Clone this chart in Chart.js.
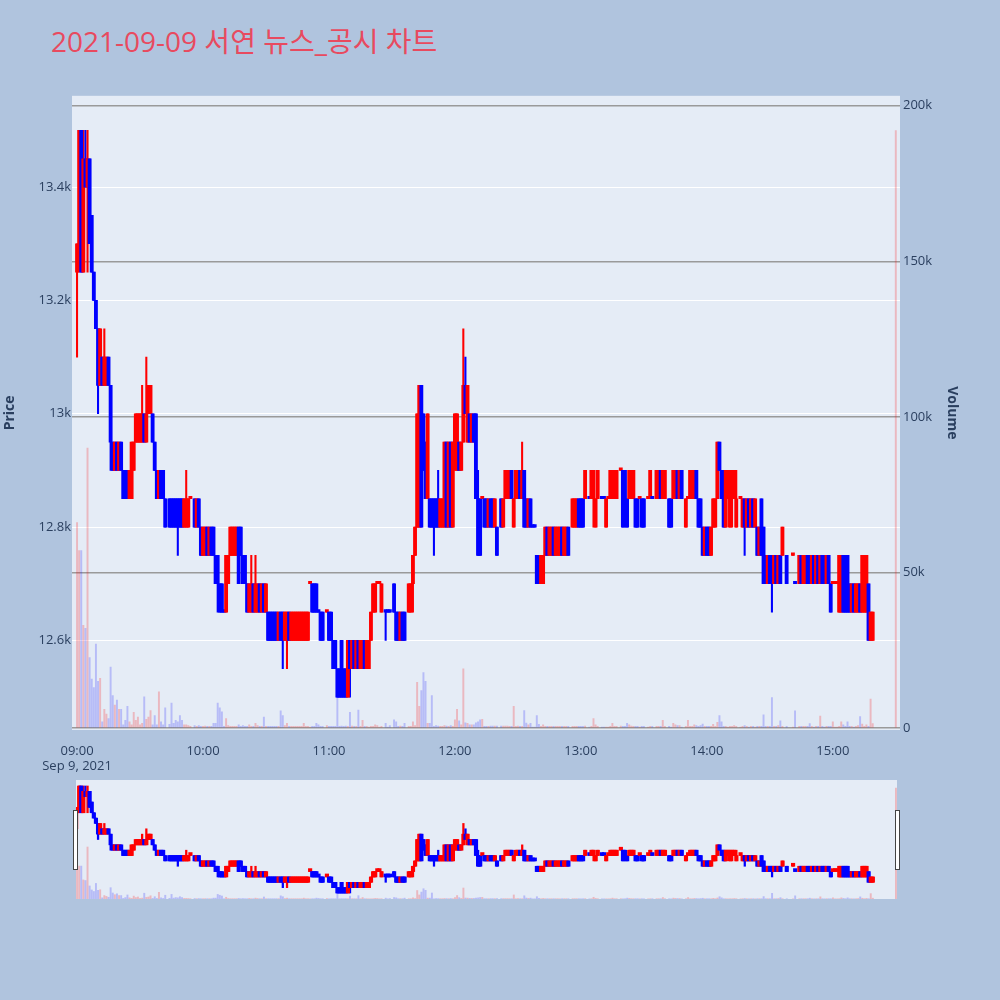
<!DOCTYPE html>
<html lang="ko">
<head>
<meta charset="utf-8">
<title>2021-09-09 서연 뉴스_공시 차트</title>
<script src="https://cdn.jsdelivr.net/npm/chart.js@4.4.1/dist/chart.umd.min.js"></script>
<style>
    html, body { margin: 0; padding: 0; background: #b0c4de; }
    body { width: 1000px; height: 1000px; position: relative; overflow: hidden; }
    #chartTitle {
        position: absolute; left: 51px; top: 27px; line-height: 1;
        font-family: "Open Sans", "Noto Sans CJK KR", sans-serif; font-size: 28px;
        color: #e84a5f; white-space: nowrap;
    }
    #mainBox { position: absolute; left: 0; top: 85px; width: 962px; height: 695px; }
    #sliderBox { position: absolute; left: 0; top: 780px; width: 1000px; height: 120px; }
    .grabber { position: absolute; top: 810px; width: 3px; height: 58px; background: #fff; border: 1px solid #444; }
</style>
</head>
<body>
<div id="chartTitle">2021-09-09 서연 뉴스_공시 차트</div>
<div id="mainBox"><canvas id="mainChart"></canvas></div>
<div id="sliderBox"><canvas id="sliderChart"></canvas></div>
<div class="grabber" style="left:73px"></div>
<div class="grabber" style="left:895px"></div>

<script>
// minutes after 09:00 (1-minute candles)
const minutes = [
    0, 1, 2, 3, 4, 5, 6, 7, 8, 9,
    10, 11, 12, 13, 14, 15, 16, 17, 18, 19,
    20, 21, 22, 23, 24, 25, 26, 27, 28, 29,
    30, 31, 32, 33, 34, 35, 36, 37, 38, 39,
    40, 41, 42, 44, 45, 46, 47, 48, 49, 50,
    51, 52, 53, 54, 56, 57, 58, 59, 60, 61,
    62, 63, 64, 65, 66, 67, 68, 69, 70, 71,
    72, 73, 74, 75, 76, 77, 78, 79, 80, 81,
    82, 83, 84, 85, 86, 87, 88, 89, 90, 91,
    92, 93, 94, 95, 96, 97, 98, 99, 100, 101,
    102, 103, 104, 105, 106, 107, 108, 109, 110, 111,
    112, 113, 114, 115, 116, 117, 119, 120, 121, 122,
    123, 124, 125, 126, 127, 128, 129, 130, 131, 132,
    133, 134, 135, 136, 137, 138, 139, 140, 141, 142,
    143, 144, 145, 147, 148, 149, 151, 152, 153, 154,
    155, 156, 158, 159, 160, 161, 162, 163, 164, 165,
    166, 167, 168, 169, 170, 171, 172, 173, 174, 175,
    176, 177, 178, 179, 180, 181, 182, 183, 184, 185,
    186, 187, 188, 189, 190, 191, 192, 193, 194, 195,
    196, 197, 198, 199, 200, 202, 203, 204, 205, 206,
    207, 208, 209, 210, 211, 212, 213, 214, 215, 216,
    217, 218, 219, 220, 221, 222, 223, 224, 225, 226,
    227, 228, 229, 230, 231, 232, 233, 234, 236, 237,
    238, 239, 240, 241, 242, 244, 245, 246, 247, 248,
    250, 251, 252, 253, 254, 255, 256, 257, 259, 260,
    261, 262, 263, 264, 265, 266, 267, 268, 269, 270,
    272, 273, 274, 276, 277, 278, 279, 280, 282, 283,
    284, 285, 286, 287, 288, 290, 291, 292, 293, 294,
    295, 296, 297, 298, 299, 300, 301, 302, 303, 304,
    305, 306, 307, 308, 309, 310, 311, 312, 313, 314,
    316, 317, 318, 319, 320, 321, 322, 323, 324, 325,
    326, 327, 328, 329, 330, 331, 332, 333, 334, 335,
    336, 338, 341, 342, 344, 345, 346, 347, 348, 349,
    350, 351, 352, 353, 354, 355, 356, 357, 358, 359,
    360, 361, 362, 363, 364, 365, 366, 367, 368, 369,
    370, 371, 372, 373, 374, 375, 376, 377, 378, 379,
    390
];

const opens = [
    13250, 13300, 13500, 13250, 13450, 13400, 13450, 13350, 13250, 13200,
    13150, 13050, 13100, 13050, 13050, 13100, 13050, 12950, 12900, 12950,
    12900, 12950, 12900, 12900, 12900, 12850, 12850, 12900, 12950, 12950,
    12950, 12950, 13000, 12950, 13000, 13000, 13000, 12950, 12900, 12850,
    12900, 12900, 12850, 12850, 12850, 12850, 12850, 12850, 12850, 12850,
    12800, 12800, 12800, 12850, 12850, 12800, 12850, 12800, 12750, 12750,
    12800, 12750, 12800, 12800, 12750, 12750, 12700, 12700, 12650, 12650,
    12700, 12750, 12750, 12750, 12750, 12800, 12800, 12750, 12750, 12700,
    12650, 12650, 12700, 12650, 12650, 12700, 12650, 12700, 12650, 12650,
    12650, 12650, 12650, 12650, 12600, 12650, 12650, 12600, 12600, 12650,
    12600, 12600, 12600, 12600, 12600, 12600, 12600, 12600, 12600, 12700,
    12700, 12700, 12700, 12650, 12650, 12650, 12650, 12650, 12650, 12600,
    12600, 12550, 12550, 12600, 12550, 12550, 12500, 12600, 12550, 12600,
    12550, 12600, 12550, 12550, 12600, 12550, 12550, 12600, 12650, 12650,
    12700, 12700, 12650, 12650, 12650, 12650, 12700, 12650, 12650, 12600,
    12650, 12650, 12650, 12650, 12700, 12750, 12800, 12800, 13050, 13000,
    12950, 12850, 12850, 12850, 12850, 12850, 12850, 12800, 12800, 12800,
    12950, 12800, 12950, 12800, 12950, 12900, 12950, 12900, 12950, 13050,
    12950, 13000, 12950, 13000, 13000, 12850, 12850, 12850, 12850, 12850,
    12800, 12850, 12850, 12800, 12800, 12850, 12800, 12850, 12850, 12850,
    12900, 12800, 12850, 12850, 12900, 12850, 12900, 12850, 12800, 12850,
    12800, 12800, 12750, 12750, 12700, 12700, 12750, 12800, 12750, 12750,
    12800, 12750, 12750, 12750, 12800, 12750, 12750, 12800, 12800, 12800,
    12800, 12850, 12850, 12850, 12850, 12850, 12850, 12850, 12800, 12850,
    12850, 12850, 12800, 12850, 12850, 12850, 12850, 12850, 12900, 12900,
    12900, 12850, 12850, 12850, 12850, 12850, 12850, 12850, 12850, 12850,
    12850, 12850, 12850, 12850, 12850, 12900, 12850, 12850, 12850, 12850,
    12850, 12850, 12900, 12850, 12900, 12800, 12850, 12850, 12850, 12850,
    12900, 12850, 12850, 12800, 12750, 12800, 12800, 12750, 12800, 12800,
    12850, 12950, 12900, 12900, 12800, 12850, 12800, 12850, 12850, 12800,
    12850, 12800, 12850, 12800, 12850, 12800, 12850, 12800, 12800, 12750,
    12850, 12800, 12750, 12700, 12750, 12750, 12700, 12750, 12700, 12750,
    12750, 12750, 12750, 12700, 12700, 12750, 12700, 12700, 12750, 12750,
    12700, 12750, 12700, 12750, 12700, 12750, 12750, 12700, 12750, 12700,
    12700, 12700, 12700, 12650, 12650, 12750, 12750, 12750, 12700, 12650,
    12700, 12650, 12650, 12700, 12650, 12650, 12650, 12700, 12600, 12600,
    null
];

const highs = [
    13300, 13500, 13500, 13500, 13500, 13500, 13450, 13350, 13250, 13200,
    13150, 13150, 13100, 13150, 13100, 13100, 13050, 12950, 12950, 12950,
    12950, 12950, 12900, 12900, 12900, 12900, 12950, 12950, 13000, 13000,
    13000, 13050, 13000, 13100, 13050, 13050, 13000, 12950, 12900, 12900,
    12900, 12900, 12850, 12850, 12850, 12850, 12850, 12850, 12850, 12850,
    12850, 12900, 12850, 12850, 12850, 12850, 12850, 12800, 12800, 12800,
    12800, 12800, 12800, 12800, 12750, 12750, 12700, 12700, 12650, 12750,
    12750, 12800, 12800, 12800, 12800, 12800, 12800, 12750, 12750, 12700,
    12700, 12750, 12700, 12750, 12700, 12700, 12700, 12700, 12700, 12650,
    12650, 12650, 12650, 12650, 12650, 12650, 12650, 12650, 12650, 12650,
    12650, 12650, 12650, 12650, 12650, 12650, 12650, 12650, 12650, 12700,
    12700, 12700, 12700, 12650, 12650, 12650, 12650, 12650, 12650, 12600,
    12600, 12550, 12550, 12600, 12550, 12550, 12600, 12600, 12600, 12600,
    12600, 12600, 12600, 12600, 12600, 12600, 12600, 12650, 12700, 12700,
    12700, 12700, 12700, 12650, 12650, 12650, 12700, 12650, 12650, 12650,
    12650, 12650, 12700, 12700, 12750, 12800, 13000, 13050, 13050, 13000,
    12950, 13000, 12850, 12850, 12850, 12850, 12900, 12850, 12850, 12950,
    12950, 12950, 12950, 12950, 13000, 13000, 12950, 12950, 13150, 13100,
    13050, 13000, 13000, 13000, 13000, 12900, 12850, 12850, 12850, 12850,
    12850, 12850, 12850, 12850, 12800, 12850, 12850, 12900, 12900, 12900,
    12900, 12850, 12900, 12900, 12900, 12950, 12900, 12850, 12850, 12850,
    12800, 12800, 12750, 12750, 12750, 12750, 12800, 12800, 12800, 12800,
    12800, 12800, 12800, 12800, 12800, 12800, 12800, 12800, 12850, 12850,
    12850, 12850, 12850, 12850, 12900, 12850, 12900, 12900, 12850, 12900,
    12850, 12850, 12850, 12850, 12900, 12900, 12900, 12900, 12900, 12900,
    12900, 12850, 12900, 12900, 12900, 12850, 12850, 12850, 12850, 12850,
    12850, 12900, 12850, 12900, 12900, 12900, 12900, 12900, 12850, 12850,
    12900, 12900, 12900, 12900, 12900, 12850, 12850, 12900, 12900, 12900,
    12900, 12850, 12850, 12800, 12800, 12800, 12800, 12800, 12850, 12850,
    12950, 12950, 12900, 12900, 12900, 12900, 12900, 12900, 12900, 12900,
    12850, 12850, 12850, 12850, 12850, 12850, 12850, 12850, 12800, 12800,
    12850, 12800, 12750, 12750, 12750, 12750, 12750, 12750, 12750, 12750,
    12800, 12750, 12750, 12700, 12750, 12750, 12750, 12750, 12750, 12750,
    12750, 12750, 12750, 12750, 12750, 12750, 12750, 12750, 12750, 12700,
    12700, 12700, 12700, 12750, 12750, 12750, 12750, 12750, 12700, 12700,
    12700, 12700, 12700, 12700, 12750, 12750, 12750, 12700, 12650, 12650,
    null
];

const lows = [
    13100, 13250, 13250, 13250, 13400, 13250, 13300, 13250, 13200, 13150,
    13000, 13050, 13050, 13050, 13050, 13050, 12900, 12900, 12900, 12900,
    12900, 12900, 12850, 12850, 12850, 12850, 12850, 12900, 12950, 12950,
    12950, 12950, 12950, 12950, 13000, 13000, 12950, 12900, 12850, 12850,
    12850, 12850, 12800, 12800, 12800, 12800, 12800, 12750, 12800, 12800,
    12800, 12800, 12800, 12850, 12800, 12800, 12800, 12750, 12750, 12750,
    12750, 12750, 12750, 12750, 12700, 12650, 12650, 12650, 12650, 12650,
    12700, 12750, 12750, 12750, 12750, 12700, 12750, 12700, 12700, 12650,
    12650, 12650, 12650, 12650, 12650, 12650, 12650, 12650, 12650, 12600,
    12600, 12600, 12600, 12600, 12600, 12600, 12550, 12600, 12550, 12600,
    12600, 12600, 12600, 12600, 12600, 12600, 12600, 12600, 12600, 12700,
    12650, 12650, 12650, 12650, 12600, 12600, 12650, 12600, 12600, 12550,
    12550, 12500, 12500, 12500, 12500, 12500, 12500, 12500, 12550, 12550,
    12550, 12550, 12550, 12550, 12550, 12550, 12550, 12600, 12650, 12650,
    12700, 12700, 12650, 12600, 12650, 12650, 12650, 12600, 12600, 12600,
    12600, 12600, 12650, 12650, 12650, 12750, 12800, 12800, 12800, 12900,
    12850, 12850, 12800, 12800, 12750, 12800, 12800, 12800, 12800, 12800,
    12800, 12800, 12800, 12800, 12900, 12900, 12900, 12900, 12950, 13000,
    12950, 12950, 12950, 12950, 12850, 12750, 12750, 12850, 12800, 12800,
    12800, 12800, 12800, 12800, 12750, 12800, 12800, 12850, 12850, 12850,
    12850, 12800, 12850, 12850, 12850, 12850, 12800, 12800, 12800, 12800,
    12800, 12800, 12700, 12700, 12700, 12700, 12750, 12750, 12750, 12750,
    12750, 12750, 12750, 12750, 12750, 12750, 12750, 12750, 12800, 12800,
    12800, 12800, 12800, 12800, 12850, 12850, 12850, 12800, 12800, 12850,
    12850, 12850, 12800, 12850, 12850, 12850, 12850, 12850, 12900, 12800,
    12800, 12800, 12850, 12850, 12850, 12800, 12800, 12850, 12800, 12800,
    12850, 12850, 12850, 12850, 12850, 12850, 12850, 12850, 12800, 12800,
    12850, 12850, 12850, 12850, 12850, 12800, 12850, 12850, 12850, 12850,
    12850, 12800, 12800, 12750, 12750, 12750, 12750, 12750, 12800, 12800,
    12850, 12900, 12850, 12800, 12800, 12850, 12800, 12800, 12850, 12800,
    12850, 12800, 12750, 12800, 12800, 12800, 12800, 12800, 12750, 12750,
    12750, 12700, 12700, 12700, 12700, 12650, 12700, 12700, 12700, 12700,
    12750, 12700, 12750, 12700, 12700, 12700, 12700, 12700, 12700, 12700,
    12700, 12700, 12700, 12700, 12700, 12700, 12700, 12700, 12700, 12650,
    12700, 12700, 12700, 12650, 12650, 12650, 12650, 12650, 12650, 12650,
    12650, 12650, 12650, 12650, 12650, 12650, 12650, 12600, 12600, 12600,
    null
];

const closes = [
    13300, 13500, 13250, 13450, 13400, 13450, 13300, 13250, 13200, 13150,
    13050, 13150, 13050, 13100, 13100, 13050, 12950, 12900, 12950, 12900,
    12950, 12900, 12850, 12850, 12850, 12900, 12950, 12950, 13000, 13000,
    13000, 13000, 12950, 13000, 13050, 13050, 12950, 12900, 12850, 12900,
    12850, 12850, 12800, 12800, 12800, 12800, 12800, 12800, 12800, 12800,
    12850, 12850, 12850, 12850, 12800, 12850, 12800, 12750, 12800, 12800,
    12750, 12800, 12750, 12750, 12700, 12700, 12650, 12650, 12650, 12750,
    12750, 12800, 12800, 12800, 12800, 12700, 12750, 12700, 12700, 12650,
    12700, 12700, 12650, 12700, 12700, 12650, 12700, 12650, 12700, 12600,
    12600, 12600, 12600, 12600, 12650, 12600, 12600, 12650, 12650, 12600,
    12650, 12650, 12650, 12650, 12650, 12650, 12650, 12650, 12650, 12700,
    12650, 12650, 12650, 12650, 12600, 12600, 12650, 12600, 12600, 12550,
    12550, 12500, 12500, 12500, 12500, 12500, 12600, 12550, 12600, 12550,
    12600, 12550, 12600, 12600, 12550, 12600, 12600, 12650, 12700, 12700,
    12700, 12700, 12700, 12650, 12650, 12650, 12650, 12600, 12600, 12650,
    12600, 12600, 12700, 12700, 12750, 12800, 13000, 13050, 12800, 12900,
    12850, 13000, 12800, 12800, 12800, 12800, 12800, 12850, 12850, 12950,
    12800, 12950, 12800, 12950, 13000, 13000, 12900, 12950, 13050, 13000,
    13050, 12950, 13000, 12950, 12850, 12750, 12750, 12850, 12800, 12800,
    12850, 12800, 12800, 12850, 12750, 12800, 12850, 12900, 12900, 12900,
    12850, 12850, 12900, 12900, 12850, 12900, 12800, 12800, 12850, 12800,
    12800, 12800, 12700, 12700, 12750, 12750, 12800, 12750, 12800, 12800,
    12750, 12800, 12800, 12800, 12750, 12800, 12800, 12750, 12850, 12850,
    12850, 12800, 12800, 12800, 12900, 12850, 12900, 12900, 12850, 12900,
    12850, 12850, 12850, 12850, 12900, 12900, 12900, 12900, 12900, 12800,
    12850, 12800, 12900, 12900, 12900, 12800, 12800, 12850, 12800, 12800,
    12850, 12900, 12850, 12900, 12900, 12850, 12900, 12900, 12800, 12800,
    12900, 12900, 12850, 12900, 12850, 12850, 12850, 12900, 12900, 12900,
    12850, 12800, 12800, 12750, 12800, 12750, 12750, 12800, 12850, 12850,
    12950, 12900, 12850, 12800, 12900, 12900, 12900, 12900, 12900, 12850,
    12850, 12850, 12800, 12850, 12800, 12850, 12800, 12850, 12750, 12800,
    12750, 12700, 12700, 12750, 12700, 12700, 12750, 12700, 12750, 12700,
    12800, 12700, 12750, 12700, 12750, 12700, 12750, 12750, 12700, 12700,
    12750, 12700, 12750, 12700, 12750, 12700, 12700, 12750, 12700, 12650,
    12700, 12700, 12700, 12750, 12750, 12650, 12650, 12650, 12650, 12700,
    12650, 12700, 12700, 12650, 12750, 12750, 12750, 12600, 12650, 12650,
    null
];

const volumes = [
    66000, 57000, 57000, 33000, 32000, 90000, 22600, 15700, 13000, 27000,
    15000, 16000, 2000, 6000, 4500, 3000, 19600, 10400, 7400, 9000,
    6000, 6000, 1000, 2500, 7000, 2000, 1000, 5000, 2500, 3500,
    1000, 1500, 10000, 2800, 3500, 5600, 1000, 4000, 1000, 11600,
    2000, 1000, 6500, 1200, 8000, 1500, 2500, 2000, 4000, 2500,
    1000, 1000, 800, 500, 800, 500, 800, 500, 500, 600,
    500, 500, 500, 1500, 1500, 8000, 6500, 5200, 500, 3000,
    800, 500, 500, 500, 500, 1000, 500, 800, 500, 500,
    1000, 500, 500, 1500, 800, 500, 500, 3500, 500, 500,
    500, 500, 500, 500, 500, 5500, 4000, 800, 1500, 500,
    500, 500, 500, 500, 500, 500, 1500, 500, 500, 300,
    500, 500, 1500, 1000, 500, 500, 800, 500, 500, 500,
    500, 11600, 500, 600, 500, 600, 500, 5000, 600, 500,
    500, 5800, 500, 2500, 500, 500, 300, 500, 500, 1000,
    800, 300, 500, 1500, 300, 800, 2600, 2000, 500, 600,
    500, 1500, 500, 500, 2000, 800, 14700, 7000, 12000, 17800,
    15000, 1500, 1500, 10400, 500, 800, 600, 500, 500, 800,
    600, 500, 800, 500, 2600, 6000, 2300, 1000, 19000, 1700,
    1500, 1000, 1000, 1000, 1700, 2000, 2600, 2800, 500, 500,
    500, 600, 600, 600, 600, 600, 600, 600, 600, 500,
    500, 7000, 500, 600, 500, 500, 5600, 1600, 1000, 1500,
    300, 300, 4000, 1200, 500, 1000, 500, 500, 500, 500,
    500, 500, 500, 500, 500, 500, 500, 500, 500, 500,
    500, 500, 500, 500, 600, 300, 500, 3000, 1000, 500,
    300, 300, 300, 300, 500, 1500, 500, 500, 600, 500,
    500, 1500, 1000, 600, 500, 500, 500, 300, 500, 500,
    300, 500, 500, 500, 500, 500, 2500, 500, 500, 300,
    1500, 1000, 800, 800, 300, 500, 2500, 500, 500, 1000,
    800, 500, 800, 1300, 500, 500, 500, 500, 1200, 500,
    1800, 4000, 2000, 500, 500, 300, 500, 500, 800, 500,
    300, 500, 800, 500, 300, 500, 500, 300, 500, 500,
    500, 4200, 500, 500, 500, 9800, 500, 500, 800, 2300,
    500, 500, 300, 5500, 500, 500, 500, 500, 500, 1400,
    500, 300, 500, 500, 3800, 500, 300, 500, 500, 500,
    2000, 300, 300, 500, 2000, 1000, 500, 2000, 500, 500,
    300, 500, 800, 3700, 1300, 500, 1000, 500, 9300, 1400,
    192000
];

// axis ticks
const hourTicks = [0, 60, 120, 180, 240, 300, 360];
const hourLabels = ['09:00', '10:00', '11:00', '12:00', '13:00', '14:00', '15:00'];
const dateLabel = 'Sep 9, 2021';
const priceTicks = [12600, 12800, 13000, 13200, 13400];
const volumeTicks = [0, 50000, 100000, 150000, 200000];

const UP = 'rgb(255,0,0)';
const DOWN = 'rgb(0,0,255)';
const UP_VOL = 'rgba(255,0,0,0.22)';
const DOWN_VOL = 'rgba(0,0,255,0.2)';
const FONT = "'Open Sans', 'Noto Sans', sans-serif";
const AXIS_COLOR = '#2a3f5f';

// candle direction: close vs open, ties resolved by previous close
var dirs = [];
var prevClose = null, prevDir = 1;
for (var i = 0; i < minutes.length; i++) {
    var o = opens[i], c = closes[i], d;
    if (o == null) d = prevDir;
    else if (c > o) d = 1;
    else if (c < o) d = -1;
    else if (prevClose != null && c > prevClose) d = 1;
    else if (prevClose != null && c < prevClose) d = -1;
    else d = prevDir;
    dirs.push(d);
    if (c != null) prevClose = c;
    prevDir = d;
}

function buildDatasets(bodyW, wickW, volW, minBody) {
    var bodyData = [], wickData = [], volData = [];
    for (var i = 0; i < minutes.length; i++) {
        bodyData.push({x: minutes[i], y: opens[i] == null ? null : [opens[i], closes[i]]});
        wickData.push({x: minutes[i], y: lows[i] == null ? null : [lows[i], highs[i]]});
        volData.push({x: minutes[i], y: volumes[i]});
    }
    var candleColors = dirs.map(function (d) { return d > 0 ? UP : DOWN; });
    var volColors = dirs.map(function (d) { return d > 0 ? UP_VOL : DOWN_VOL; });
    return [
        {label: 'body', data: bodyData, backgroundColor: candleColors, barThickness: bodyW,
            minBarLength: minBody, grouped: false, yAxisID: 'y', order: 1},
        {label: 'wick', data: wickData, backgroundColor: candleColors.slice(), barThickness: wickW,
            grouped: false, yAxisID: 'y', order: 2},
        {label: 'volume', data: volData, backgroundColor: volColors, barThickness: volW,
            grouped: false, yAxisID: 'y2', order: 3}
    ];
}

// plot area background
const plotBg = {
    id: 'plotBg',
    beforeDraw: function (chart) {
        var a = chart.chartArea, ctx = chart.ctx;
        ctx.save();
        ctx.fillStyle = '#e5ecf6';
        ctx.fillRect(a.left, a.top, a.right - a.left, a.bottom - a.top);
        ctx.restore();
    }
};

function fmtK(v) {
    return v === 0 ? '0' : (v / 1000) + 'k';
}

function fixedTicks(list) {
    return function (s) {
        s.ticks = list.map(function (v) { return {value: v}; });
    };
}

new Chart(document.getElementById('mainChart'), {
    type: 'bar',
    data: {datasets: buildDatasets(3.2, 1.4, 1.3, 2.5)},
    plugins: [plotBg],
    options: {
        responsive: true,
        maintainAspectRatio: false,
        animation: false,
        layout: {padding: 0},
        plugins: {legend: {display: false}, tooltip: {enabled: false}},
        scales: {
            x: {
                type: 'linear', min: -2.4, max: 392, offset: false,
                grid: {display: false}, border: {display: false},
                afterBuildTicks: fixedTicks(hourTicks),
                afterFit: function (s) { s.height = 50; },
                ticks: {
                    color: AXIS_COLOR, font: {family: FONT, size: 13}, padding: 5,
                    maxRotation: 0, autoSkip: false,
                    callback: function (v) {
                        var k = hourTicks.indexOf(v);
                        if (k === 0) return [hourLabels[0], dateLabel];
                        return k >= 0 ? hourLabels[k] : '';
                    }
                }
            },
            y: {
                position: 'left', min: 12442, max: 13561,
                grid: {color: '#ffffff', lineWidth: 1, drawTicks: false},
                border: {display: false},
                afterBuildTicks: fixedTicks(priceTicks),
                ticks: {color: AXIS_COLOR, font: {family: FONT, size: 13}, padding: 1, callback: fmtK},
                title: {display: true, text: 'Price', color: AXIS_COLOR, padding: 2,
                    font: {family: FONT, size: 14, weight: 'bold'}},
                afterFit: function (s) { s.width = 72; }
            },
            y2: {
                position: 'right', min: -640, max: 203200,
                grid: {color: '#9a9a9a', lineWidth: 1.5, drawTicks: false},
                border: {display: false},
                afterBuildTicks: fixedTicks(volumeTicks),
                ticks: {color: AXIS_COLOR, font: {family: FONT, size: 13}, padding: 3, callback: fmtK},
                title: {display: true, text: 'Volume', color: AXIS_COLOR, padding: 2,
                    font: {family: FONT, size: 14, weight: 'bold'}},
                afterFit: function (s) { s.width = 62; }
            }
        }
    }
});

// range slider preview
new Chart(document.getElementById('sliderChart'), {
    type: 'bar',
    data: {datasets: buildDatasets(3.5, 1.6, 1.3, 3)},
    plugins: [plotBg],
    options: {
        responsive: true,
        maintainAspectRatio: false,
        animation: false,
        layout: {padding: {top: 0, left: 76, right: 103, bottom: 1}},
        plugins: {legend: {display: false}, tooltip: {enabled: false}},
        scales: {
            x: {type: 'linear', min: -0.5, max: 390.5, offset: false, display: false},
            y: {min: 12444, max: 13556, display: false},
            y2: {min: 0, max: 206000, display: false, position: 'right'}
        }
    }
});
</script>
</body>
</html>
